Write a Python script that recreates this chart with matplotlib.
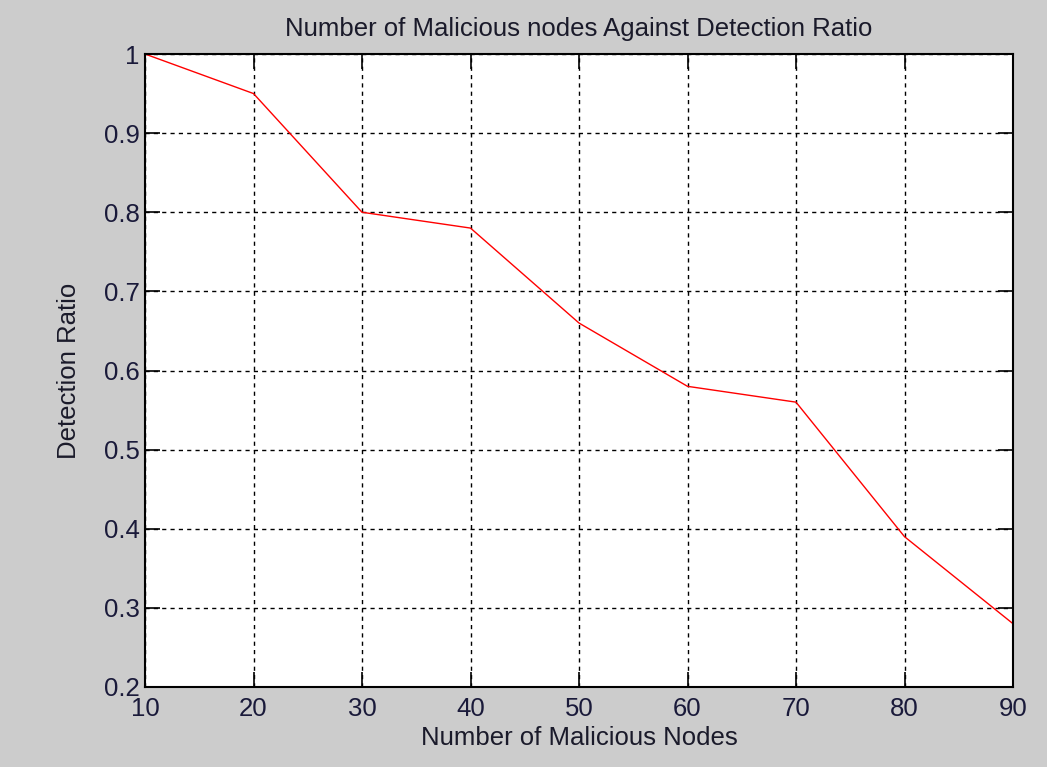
import matplotlib
matplotlib.use("Agg")
import matplotlib.pyplot as plt

nodes = [10, 20, 30, 40, 50, 60, 70, 80, 90]
detection_ratio = [1.0, 0.95, 0.80, 0.78, 0.66, 0.58, 0.56, 0.39, 0.28]
x_ticks = [10, 20, 30, 40, 50, 60, 70, 80, 90]
y_ticks = [0.2, 0.3, 0.4, 0.5, 0.6, 0.7, 0.8, 0.9, 1.0]
y_tick_labels = ["0.2", "0.3", "0.4", "0.5", "0.6", "0.7", "0.8", "0.9", "1"]

plt.rcParams['font.family'] = ['Liberation Sans', 'DejaVu Sans']

fig = plt.figure(figsize=(10.47, 7.67), dpi=100, facecolor='#cccccc')
ax = fig.add_axes([145/1047, 1 - 687/767, (1013 - 145)/1047, (687 - 54)/767])
ax.set_facecolor('white')
ax.plot(nodes, detection_ratio, color='red', linewidth=1.0)
ax.set_xlim(10, 90)
ax.set_ylim(0.2, 1.0)
ax.set_xticks(x_ticks)
ax.set_yticks(y_ticks)
ax.set_yticklabels(y_tick_labels)
ax.grid(True, color='black', linestyle=(0, (3, 3)), linewidth=1.0)
ax.tick_params(direction='in', length=10.5, width=1.2, labelsize=18.5, colors='black',
               top=True, right=True, labelcolor='#1a1a3a')
ax.tick_params(axis='x', pad=7)
ax.tick_params(axis='y', pad=4)
for s in ax.spines.values():
    s.set_linewidth(1.5)
    s.set_color('black')
ax.set_title("Number of Malicious nodes Against Detection Ratio", fontsize=18.5, pad=13, color='#1a1a2a')
ax.set_xlabel("Number of Malicious Nodes", fontsize=18.5, labelpad=4, color='#1a1a2a')
ax.set_ylabel("Detection Ratio", fontsize=18.5, labelpad=16, color='#1a1a2a')
fig.savefig("out.png", dpi=100, facecolor=fig.get_facecolor())
